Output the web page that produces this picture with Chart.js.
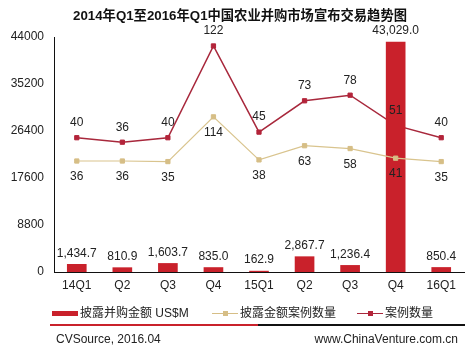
<!DOCTYPE html>
<html><head><meta charset="utf-8">
<script src="https://cdn.jsdelivr.net/npm/chart.js@4.4.1/dist/chart.umd.min.js"></script>
<style>
html,body{margin:0;padding:0;background:#fff;}
#wrap{position:relative;width:472px;height:355px;overflow:hidden;font-family:"Liberation Sans",Arial,"Noto Sans CJK SC",sans-serif;color:#222;}
#c{position:absolute;left:0;top:0;}
.t{position:absolute;white-space:nowrap;line-height:16px;font-size:12px;}
#title{left:0;width:480px;top:7px;text-align:center;font-weight:bold;font-size:13.3px;line-height:18px;color:#111;}
.mk{position:absolute;}
</style></head><body>
<div id="wrap">
<canvas id="c" width="472" height="355"></canvas>
<div id="title" class="t">2014年Q1至2016年Q1中国农业并购市场宣布交易趋势图</div>
<div class="mk" style="left:52px;top:311px;width:26px;height:5px;background:#C9212B"></div>
<div class="t" style="left:80px;top:305px">披露并购金额 US$M</div>
<div class="mk" style="left:212px;top:313px;width:26px;height:1px;background:#D6BE86"></div>
<div class="mk" style="left:223px;top:311px;width:5px;height:5px;background:#D6BE86"></div>
<div class="t" style="left:240px;top:305px">披露金额案例数量</div>
<div class="mk" style="left:357px;top:313px;width:26px;height:1px;background:#A8283C"></div>
<div class="mk" style="left:368px;top:311px;width:5px;height:5px;background:#B3243A"></div>
<div class="t" style="left:385px;top:305px">案例数量</div>
<div class="mk" style="left:50px;top:324px;width:208px;height:2px;background:#C9212B"></div>
<div class="mk" style="left:258px;top:324px;width:207px;height:2px;background:#111"></div>
<div class="t" style="left:56px;top:331px">CVSource, 2016.04</div>
<div class="t" style="right:14px;top:331px">www.ChinaVenture.com.cn</div>
</div>
<script>
const categories = ['14Q1','Q2','Q3','Q4','15Q1','Q2','Q3','Q4','16Q1'];
const amountUSDm = [1434.7, 810.9, 1603.7, 835.0, 162.9, 2867.7, 1236.4, 43029.0, 850.4];
const disclosedCases = [36, 36, 35, 114, 38, 63, 58, 41, 35];
const totalCases = [40, 36, 40, 122, 45, 73, 78, 51, 40];
const yTicks = [0, 8800, 17600, 26400, 35200, 44000];

const labelPlugin = {
  id: 'vlabels',
  afterDatasetsDraw(chart) {
    const ctx = chart.ctx;
    ctx.save();
    ctx.font = '12px "Liberation Sans", Arial, sans-serif';
    ctx.fillStyle = '#222';
    ctx.textAlign = 'center';
    ctx.textBaseline = 'middle';
    chart.data.datasets.forEach((ds, i) => {
      const meta = chart.getDatasetMeta(i);
      meta.data.forEach((el, j) => {
        const v = ds.data[j];
        let txt, y;
        if (ds.type === 'bar') {
          txt = v.toLocaleString('en-US', {minimumFractionDigits: 1, maximumFractionDigits: 1});
          y = el.y - 11;
        } else if (ds.labelPos === 'above') {
          txt = String(v); y = el.y - 15;
        } else {
          txt = String(v); y = el.y + 16;
        }
        ctx.fillText(txt, el.x, y);
      });
    });
    ctx.restore();
  }
};

new Chart(document.getElementById('c'), {
  data: {
    labels: categories,
    datasets: [
      { type: 'line', label: '案例数量', data: totalCases, yAxisID: 'yR', labelPos: 'above',
        borderColor: '#A8283C', borderWidth: 1.5, pointStyle: 'rect', pointRadius: 3,
        pointBackgroundColor: '#B3243A', pointBorderColor: '#B3243A', pointBorderWidth: 1, order: 3, tension: 0 },
      { type: 'bar', label: '披露并购金额 US$M', data: amountUSDm, yAxisID: 'y',
        backgroundColor: '#C9212B', barThickness: 19, order: 2 },
      { type: 'line', label: '披露金额案例数量', data: disclosedCases, yAxisID: 'yY', labelPos: 'below',
        borderColor: '#D9C48E', borderWidth: 1.2, pointStyle: 'rect', pointRadius: 3,
        pointBackgroundColor: '#D6BE86', pointBorderColor: '#D6BE86', pointBorderWidth: 1, order: 1, tension: 0 }
    ]
  },
  options: {
    responsive: false, animation: false,
    layout: { padding: { left: 10, right: 8, top: 37, bottom: 53 } },
    plugins: { legend: { display: false }, tooltip: { enabled: false }, title: { display: false } },
    scales: {
      x: {
        grid: { display: false, drawTicks: false },
        border: { display: true, color: '#111', width: 1 },
        ticks: { color: '#222', font: { size: 12, family: '"Liberation Sans", Arial, sans-serif' }, padding: 6, maxRotation: 0, autoSkip: false },
        afterFit(s) { s.height = 30; }
      },
      y: {
        min: 0, max: 44000,
        grid: { display: false, drawTicks: false },
        border: { display: true, color: '#111', width: 1 },
        afterBuildTicks(s) { s.ticks = yTicks.map(v => ({ value: v })); },
        ticks: { color: '#222', font: { size: 12, family: '"Liberation Sans", Arial, sans-serif' }, padding: 10,
          callback: v => String(v) },
        afterFit(s) { s.width = 44; }
      },
      yR: { display: false, min: -80, max: 130 },
      yY: { display: false, min: -160, max: 255 }
    }
  },
  plugins: [labelPlugin]
});
</script>
</body></html>
